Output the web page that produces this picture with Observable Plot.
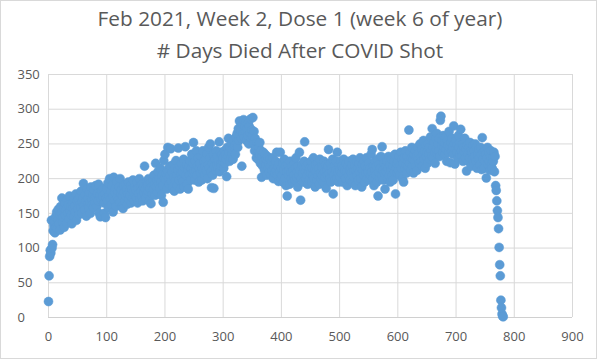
<!DOCTYPE html>
<html>
<head>
<meta charset="utf-8">
<script src="https://cdn.jsdelivr.net/npm/d3@7"></script>
<script src="https://cdn.jsdelivr.net/npm/@observablehq/plot@0.6"></script>
<style>
  html, body { margin: 0; padding: 0; background: #ffffff; }
  #wrap { position: relative; width: 600px; height: 360px; overflow: hidden; font-family: "Open Sans", sans-serif; }
  #border { position: absolute; left: 0; top: 0; width: 597px; height: 359px; box-sizing: border-box; border: 1px solid #d9d9d9; }
  #title { position: absolute; left: 0; top: 0; width: 600px; text-align: center; color: #595959; font-size: 20.8px; line-height: 31.5px; padding-top: 3px; }
  #plot { position: absolute; left: 0; top: 60px; }
</style>
</head>
<body>
<div id="wrap">
  <div id="border"></div>
  <div id="title">Feb 2021, Week 2, Dose 1 (week 6 of year)<br># Days Died After COVID Shot</div>
  <div id="plot"></div>
</div>
<script>
const titleLines = ["Feb 2021, Week 2, Dose 1 (week 6 of year)", "# Days Died After COVID Shot"];
const xTicks = [0, 100, 200, 300, 400, 500, 600, 700, 800, 900];
const yTicks = [0, 50, 100, 150, 200, 250, 300, 350];

// deaths per day after the shot, day index = position in array
const deathCounts = [
  23, 60, 88, 97, 93, 140, 100, 105, 125, 132,
  138, 122, 145, 130, 152, 128, 141, 156, 135, 148,
  126, 160, 150, 172, 138, 145, 158, 130, 165, 147,
  155, 136, 170, 150, 162, 142, 175, 153, 160, 148,
  135, 165, 158, 172, 146, 160, 152, 178, 140, 168,
  156, 170, 148, 162, 175, 158, 182, 150, 166, 172,
  193, 160, 155, 176, 168, 146, 185, 163, 172, 158,
  180, 166, 150, 188, 170, 162, 176, 158, 184, 172,
  165, 190, 174, 160, 178, 168, 192, 150, 176, 145,
  170, 182, 148, 175, 186, 165, 150, 178, 144, 172,
  185, 168, 194, 158, 176, 200, 170, 182, 162, 190,
  175, 152, 202, 168, 180, 186, 160, 196, 174, 182,
  170, 188, 165, 200, 178, 184, 160, 175, 157, 190,
  180, 168, 192, 175, 185, 163, 178, 195, 170, 182,
  176, 190, 165, 185, 172, 198, 180, 168, 188, 176,
  184, 172, 195, 165, 186, 178, 200, 170, 190, 182,
  175, 192, 168, 188, 180, 218, 185, 172, 196, 178,
  190, 182, 200, 168, 186, 194, 164, 188, 178, 198,
  185, 205, 192, 176, 222, 188, 198, 180, 210, 192,
  200, 186, 215, 195, 176, 205, 190, 166, 226, 200,
  235, 198, 208, 185, 212, 245, 200, 192, 218, 205,
  243, 196, 210, 188, 220, 202, 182, 215, 198, 226,
  205, 190, 212, 244, 198, 218, 185, 208, 222, 200,
  210, 196, 228, 188, 215, 246, 205, 220, 192, 212,
  185, 218, 205, 226, 198, 215, 235, 208, 222, 252,
  210, 198, 225, 212, 240, 205, 218, 230, 195, 215,
  222, 208, 232, 198, 215, 240, 210, 225, 205, 218,
  228, 212, 236, 200, 220, 245, 215, 230, 250, 210,
  187, 222, 205, 235, 186, 218, 228, 212, 240, 220,
  232, 215, 225, 253, 210, 238, 222, 218, 235, 225,
  230, 215, 240, 222, 235, 228, 203, 245, 232, 258,
  238, 225, 245, 230, 250, 236, 242, 228, 255, 245,
  248, 235, 260, 250, 265, 245, 272, 255, 283, 262,
  270, 258, 218, 278, 265, 285, 260, 275, 268, 282,
  255, 272, 262, 280, 250, 275, 265, 286, 258, 270,
  262, 288, 250, 268, 240, 258, 245, 230, 252, 238,
  228, 245, 235, 252, 222, 240, 202, 232, 218, 238,
  225, 212, 235, 220, 228, 205, 232, 215, 222, 210,
  228, 218, 205, 225, 212, 230, 200, 220, 215, 208,
  225, 212, 238, 205, 218, 196, 222, 210, 238, 200,
  215, 205, 222, 195, 212, 228, 200, 218, 190, 210,
  175, 220, 205, 212, 192, 225, 208, 200, 218, 195,
  212, 205, 222, 198, 215, 230, 202, 210, 188, 218,
  205, 238, 212, 169, 200, 220, 208, 195, 215, 225,
  253, 210, 200, 218, 205, 192, 222, 210, 198, 215,
  208, 225, 195, 215, 205, 230, 200, 212, 188, 220,
  210, 198, 222, 205, 215, 192, 228, 208, 200, 218,
  205, 215, 195, 225, 210, 202, 220, 186, 212, 205,
  218, 242, 208, 200, 222, 195, 215, 210, 228, 178,
  205, 218, 198, 212, 225, 200, 238, 210, 195, 220,
  212, 202, 225, 208, 218, 195, 215, 228, 205, 212,
  200, 222, 210, 190, 218, 205, 225, 212, 198, 215,
  208, 220, 195, 228, 210, 202, 218, 190, 212, 225,
  205, 215, 198, 222, 210, 230, 200, 215, 188, 220,
  212, 205, 225, 195, 218, 208, 230, 200, 215, 210,
  222, 198, 215, 205, 235, 210, 242, 200, 218, 190,
  212, 225, 205, 218, 195, 228, 175, 210, 220, 200,
  215, 232, 205, 246, 212, 198, 222, 208, 185, 218,
  210, 225, 200, 215, 232, 205, 220, 195, 212, 228,
  205, 218, 198, 225, 210, 235, 178, 215, 222, 208,
  225, 212, 232, 205, 220, 238, 215, 228, 200, 222,
  195, 230, 215, 240, 220, 208, 232, 218, 225, 270,
  222, 238, 212, 230, 245, 218, 228, 208, 235, 225,
  240, 218, 232, 212, 245, 228, 236, 222, 250, 230,
  225, 242, 218, 235, 255, 228, 240, 215, 248, 232,
  238, 222, 250, 235, 245, 228, 260, 240, 232, 272,
  245, 230, 252, 238, 222, 258, 242, 265, 235, 250,
  240, 258, 232, 284, 290, 248, 255, 238, 262, 245,
  252, 235, 260, 242, 225, 255, 248, 238, 268, 245,
  223, 252, 240, 258, 245, 235, 276, 250, 221, 242,
  255, 238, 248, 230, 262, 245, 235, 252, 271, 240,
  232, 250, 225, 245, 238, 258, 230, 242, 211, 248,
  235, 225, 245, 230, 252, 240, 218, 238, 228, 248,
  222, 240, 232, 250, 225, 245, 215, 235, 228, 242,
  230, 220, 245, 235, 213, 259, 228, 238, 215, 240,
  225, 235, 201, 230, 245, 220, 238, 225, 212, 232,
  240, 222, 215, 230, 225, 238, 210, 232, 190, 183,
  168, 154, 144, 128, 101, 76, 60, 25, 14, 5,
  2, 1
];

const rows = deathCounts.map((count, day) => ({day, count}));

const chart = Plot.plot({
  width: 600,
  height: 300,
  marginLeft: 48,
  marginRight: 28,
  marginTop: 14,
  marginBottom: 43,
  style: {fontFamily: "Open Sans, sans-serif", fontSize: "13px", color: "#595959", background: "transparent"},
  x: {domain: [0, 900], ticks: xTicks},
  y: {domain: [0, 350], ticks: yTicks},
  marks: [
    Plot.gridX(xTicks, {stroke: "#d9d9d9", strokeOpacity: 1}),
    Plot.gridY(yTicks, {stroke: "#d9d9d9", strokeOpacity: 1}),
    Plot.ruleY([0], {stroke: "#d0d0d0", strokeOpacity: 1}),
    Plot.axisX(xTicks, {tickSize: 0, tickPadding: 14, fill: "#595959", label: null}),
    Plot.axisY(yTicks, {tickSize: 0, tickPadding: 31, textAnchor: "start", fill: "#595959", label: null}),
    Plot.dot(rows, {x: "day", y: "count", r: 4.5, fill: "#5B9BD5", stroke: "#5B9BD5", strokeWidth: 0.5})
  ]
});
document.getElementById("plot").appendChild(chart);
</script>
</body>
</html>
